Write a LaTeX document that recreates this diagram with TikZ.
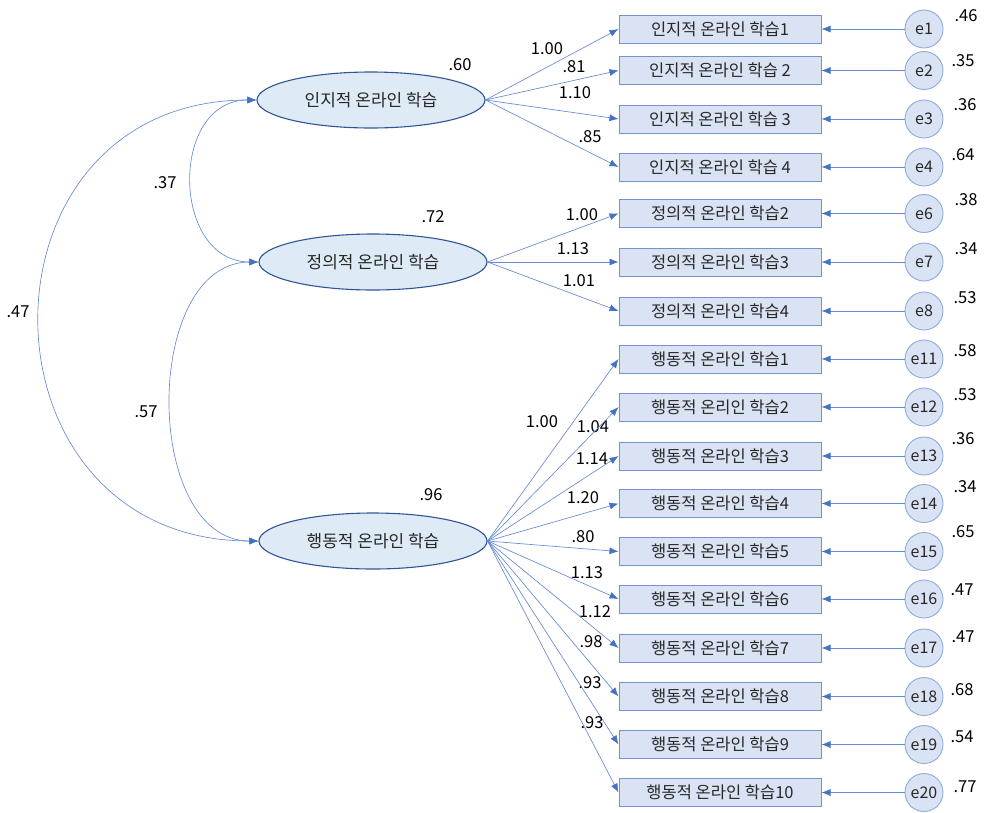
\documentclass[tikz,border=0pt]{standalone}
\usepackage{fontspec}
\setmainfont{Noto Sans CJK KR}
\usetikzlibrary{shapes.geometric,arrows.meta}
\definecolor{latfill}{RGB}{222,234,246}
\definecolor{latdraw}{RGB}{47,85,151}
\definecolor{obsfill}{RGB}{218,227,243}
\definecolor{obsdraw}{RGB}{114,147,205}
\definecolor{errfill}{RGB}{218,227,243}
\definecolor{errdraw}{RGB}{143,170,220}
\definecolor{linec}{RGB}{100,138,210}
\definecolor{tipc}{RGB}{68,114,196}
\definecolor{txt}{RGB}{40,40,40}
\begin{document}
\begin{tikzpicture}[x=1pt,y=-1pt,
  latent/.style={ellipse, draw=latdraw, line width=1.1pt, fill=latfill, minimum width=228pt, minimum height=56pt, inner sep=0pt, font=\fontsize{17}{20}\selectfont, text=txt},
  obs/.style={rectangle, draw=obsdraw, line width=1pt, fill=obsfill, minimum width=202pt, minimum height=28pt, inner sep=0pt, font=\fontsize{16.5}{19}\selectfont, text=txt},
  err/.style={circle, draw=errdraw, line width=0.9pt, fill=errfill, minimum size=38pt, inner sep=0pt, font=\fontsize{16}{19}\selectfont, text=txt},
  lbl/.style={font=\fontsize{16.5}{19}\selectfont, inner sep=0pt, text=black},
  conn/.style={draw=linec, line width=0.65pt, -{Latex[length=9pt,width=7pt,color=tipc]}},
  cov/.style={draw=linec, line width=0.65pt, {Latex[length=9pt,width=7pt,color=tipc]}-{Latex[length=9pt,width=7pt,color=tipc]}}
]
\useasboundingbox (0,0) rectangle (984,812);

% latent factors
\node[latent] (L1) at (371,100) {인지적 온라인 학습};
\node[latent] (L2) at (373,262) {정의적 온라인 학습};
\node[latent] (L3) at (373,541) {행동적 온라인 학습};

\node[lbl] (vL1) at (460,65) {.60};
\node[lbl] (vL2) at (433,217) {.72};
\node[lbl] (vL3) at (431,495) {.96};

% covariances
\draw[cov] (L1.west) to[out=180,in=180,looseness=1.38] (L2.west);
\draw[cov] (L2.west) to[out=180,in=180,looseness=1.07] (L3.west);
\draw[cov] (L1.west) to[out=180,in=180,looseness=1.68] (L3.west);
\node[lbl] (c12) at (165,183) {.37};
\node[lbl] (c13) at (18,312) {.47};
\node[lbl] (c23) at (146,412) {.57};

% indicators
\foreach \n/\y/\t/\v/\vx/\vy/\lat/\w/\wx/\wy in {
  1/29/인지적 온라인 학습1/.46/966/16/L1/1.00/547/49,
  2/70.5/인지적 온라인 학습 2/.35/963/61/L1/.81/574/67,
  3/119/인지적 온라인 학습 3/.36/965/105/L1/1.10/575/93,
  4/167/인지적 온라인 학습 4/.64/963/155/L1/.85/590/137,
  6/213.5/정의적 온라인 학습2/.38/966/200/L2/1.00/582/215,
  7/262/정의적 온라인 학습3/.34/966/249/L2/1.13/573/249,
  8/311/정의적 온라인 학습4/.53/965/298/L2/1.01/579/281,
  11/359/행동적 온라인 학습1/.58/965/351/L3/1.00/542/422,
  12/407/행동적 온리인 학습2/.53/965/395/L3/1.04/593/427,
  13/456/행동적 온라인 학습3/.36/963/439/L3/1.14/592/459,
  14/503.5/행동적 온라인 학습4/.34/965/487/L3/1.20/583/498,
  15/551.5/행동적 온라인 학습5/.65/963/532/L3/.80/583/537,
  16/599/행동적 온라인 학습6/.47/962/590/L3/1.13/587/573,
  17/648/행동적 온라인 학습7/.47/963/637/L3/1.12/595/612,
  18/696.5/행동적 온라인 학습8/.68/962/690/L3/.98/591/642,
  19/744.5/행동적 온라인 학습9/.54/962/737/L3/.93/590/683,
  20/792.5/행동적 온라인 학습10/.77/965/787/L3/.93/592/723}
{
  \node[obs] (o\n) at (720,\y) {\t};
  \node[err] (e\n) at (924,\y) {e\n};
  \node[lbl] (v\n) at (\vx,\vy) {\v};
  \node[lbl] (w\n) at (\wx,\wy) {\w};
  \draw[conn] (e\n.west) -- (o\n.east);
  \draw[conn] (\lat.east) -- (o\n.west);
}
\end{tikzpicture}
\end{document}
